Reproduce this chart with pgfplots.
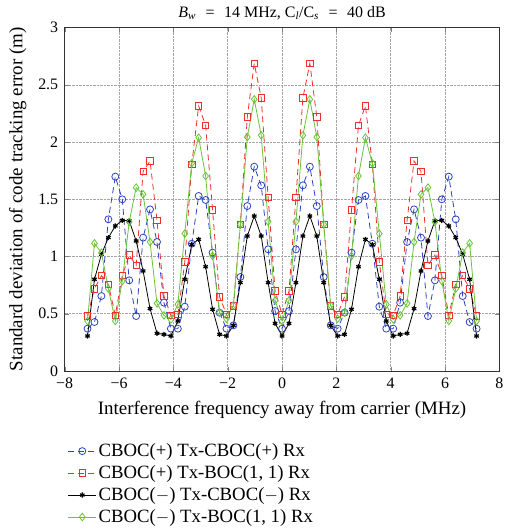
\documentclass[border=0pt]{standalone}
\usepackage{pgfplots}
\pgfplotsset{compat=1.18}
\usepackage{pgfplotstable}
\usepackage{fontspec}
\setmainfont{Liberation Serif}
\definecolor{cblue}{RGB}{45,65,195}
\definecolor{cred}{RGB}{240,45,45}
\definecolor{cgreen}{RGB}{105,195,55}
\pgfplotstableread{
x a b c d
-7.160 0.370 0.480 0.306 0.437
-6.904 0.428 0.719 0.801 1.115
-6.649 0.655 0.833 1.019 1.034
-6.393 1.325 0.757 1.165 0.719
-6.137 1.698 0.486 1.267 0.437
-5.881 1.500 0.833 1.316 0.786
-5.626 0.792 1.013 1.313 1.302
-5.370 0.480 0.923 1.136 1.602
-5.114 1.165 1.744 0.874 1.543
-4.859 1.412 1.835 0.545 1.127
-4.603 1.127 1.316 0.329 0.591
-4.347 0.597 0.655 0.320 0.486
-4.091 0.370 0.486 0.306 0.451
-3.836 0.370 0.492 0.437 0.582
-3.580 0.562 0.952 0.801 1.200
-3.324 1.112 1.805 1.104 1.814
-3.069 1.529 2.315 1.150 2.038
-2.813 1.494 2.146 0.911 1.704
-2.557 1.034 1.407 0.539 1.005
-2.301 0.510 0.649 0.320 0.510
-2.046 0.370 0.495 0.306 0.457
-1.790 0.399 0.568 0.399 0.574
-1.534 0.821 1.281 0.772 1.281
-1.279 1.441 2.219 1.179 2.044
-1.023 1.785 2.688 1.354 2.373
-0.767 1.622 2.385 1.179 2.059
-0.511 1.063 1.514 0.772 1.305
-0.256 0.524 0.699 0.416 0.617
0.000 0.370 0.495 0.306 0.437
0.256 0.524 0.699 0.416 0.617
0.511 1.063 1.514 0.772 1.305
0.767 1.622 2.385 1.179 2.059
1.023 1.785 2.688 1.354 2.373
1.279 1.441 2.219 1.179 2.044
1.534 0.821 1.281 0.772 1.281
1.790 0.399 0.568 0.399 0.574
2.046 0.370 0.495 0.306 0.457
2.301 0.510 0.649 0.320 0.510
2.557 1.034 1.407 0.539 1.005
2.813 1.494 2.146 0.911 1.704
3.069 1.529 2.315 1.150 2.038
3.324 1.112 1.805 1.104 1.814
3.580 0.562 0.952 0.801 1.200
3.836 0.370 0.492 0.437 0.582
4.091 0.370 0.486 0.306 0.451
4.347 0.597 0.655 0.320 0.486
4.603 1.127 1.316 0.329 0.591
4.859 1.412 1.835 0.545 1.127
5.114 1.165 1.744 0.874 1.543
5.370 0.480 0.923 1.136 1.602
5.626 0.792 1.013 1.313 1.302
5.881 1.500 0.833 1.316 0.786
6.137 1.698 0.486 1.267 0.437
6.393 1.325 0.757 1.165 0.719
6.649 0.655 0.833 1.019 1.034
6.904 0.428 0.719 0.801 1.115
7.160 0.370 0.480 0.306 0.437
}\datatab
\begin{document}
\begin{tikzpicture}
\useasboundingbox (-64.7bp,-160bp) rectangle (450.3bp,371bp);
\begin{axis}[
  scale only axis,
  width=434.7bp, height=343.4bp,
  xmin=-8, xmax=8, ymin=0, ymax=3,
  xtick={-8,-6,...,8},
  xticklabels={−8,−6,−4,−2,0,2,4,6,8},
  ytick={0,0.5,1,1.5,2,2.5,3},
  yticklabels={0,0.5,1,1.5,2,2.5,3},
  grid=major,
  major grid style={densely dotted, gray!70, line width=0.6pt},
  tick align=inside,
  xtick pos=both, ytick pos=both,
  axis line style={black!80, line width=0.7pt},
  tick label style={font=\fontsize{16}{18}\selectfont},
  xticklabel style={yshift=-3bp},
  yticklabel style={xshift=-3bp},
  label style={font=\fontsize{19}{21}\selectfont},
  xlabel style={yshift=-6bp},
  ylabel style={yshift=5bp},
  title style={font=\fontsize{16}{18}\selectfont, yshift=-2bp},
  title={\textit{B}\textsubscript{\textit{w}}\hspace{0.6em}=\hspace{0.6em}14 MHz, C\textsubscript{\textit{l}}/C\textsubscript{\textit{s}}\hspace{0.6em}=\hspace{0.6em}40 dB},
  xlabel={Interference frequency away from carrier (MHz)},
  ylabel={Standard deviation of code tracking error (m)},
  legend style={draw=none, fill=none, at={(0,-0.2)}, anchor=north west,
    font=\fontsize{18.8}{21}\selectfont, row sep=3.5bp},
  legend cell align=left,
  legend image code/.code={\draw[mark repeat=2,mark phase=2] plot coordinates {(0bp,0bp) (14bp,0bp) (28bp,0bp)};},
]
\addplot[cblue, line width=0.8pt, dash pattern=on 6bp off 4bp, mark=o, mark size=3.5bp, mark options={solid}] table[x=x,y=a] {\datatab};
\addlegendentry{CBOC(+) Tx-CBOC(+) Rx}
\addplot[cred, line width=0.8pt, dash pattern=on 6bp off 4bp, mark=square, mark size=3.2bp, mark options={solid}] table[x=x,y=b] {\datatab};
\addlegendentry{CBOC(+) Tx-BOC(1, 1) Rx}
\addplot[black, line width=0.8pt, mark=asterisk, mark size=2.6bp, mark options={solid, line width=1.2pt}] table[x=x,y=c] {\datatab};
\addlegendentry{CBOC($-$) Tx-CBOC($-$) Rx}
\addplot[cgreen, line width=0.8pt, mark=diamond, mark size=3.8bp, mark options={solid}] table[x=x,y=d] {\datatab};
\addlegendentry{CBOC($-$) Tx-BOC(1, 1) Rx}
\end{axis}
\end{tikzpicture}
\end{document}
